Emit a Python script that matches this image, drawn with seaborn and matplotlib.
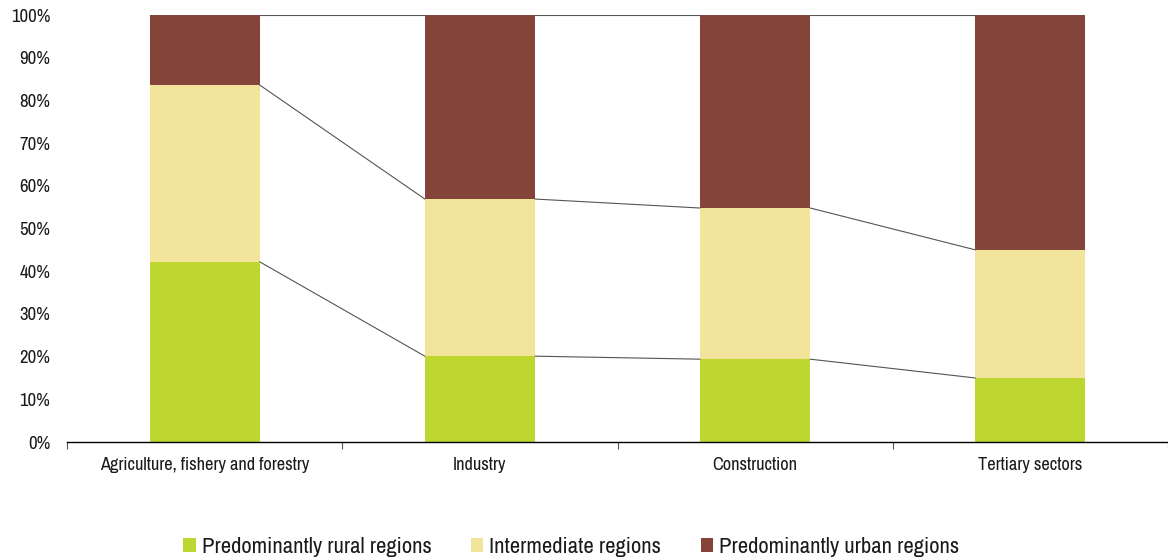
import matplotlib
matplotlib.use("Agg")
import matplotlib.pyplot as plt
from matplotlib.patches import Patch
import seaborn as sns
import pandas as pd
import numpy as np

sectors = ["Agriculture, fishery and forestry", "Industry", "Construction", "Tertiary sectors"]
rural = [42.2, 20.1, 19.4, 15.0]
intermediate = [41.4, 36.8, 35.4, 30.0]
urban = [16.4, 43.1, 45.2, 55.0]
series_names = ["Predominantly rural regions", "Intermediate regions", "Predominantly urban regions"]
colors = ["#BDD630", "#F3E49B", "#84443A"]

sns.set_theme(style="white")
plt.rcParams["font.family"] = ["Archivo Narrow", "Roboto Condensed", "DejaVu Sans"]

df = pd.DataFrame({"sector": sectors, "rural": rural,
                   "intermediate": intermediate, "urban": urban})
df["cum_rural"] = df["rural"]
df["cum_int"] = df["rural"] + df["intermediate"]
df["cum_all"] = df["cum_int"] + df["urban"]

fig = plt.figure(figsize=(11.68, 5.6), dpi=100)
ax = fig.add_axes([0.0574, 0.2107, 0.9426, 0.7625])

width = 0.4
# stacked bars drawn back to front using cumulative totals
for col, c in [("cum_all", colors[2]), ("cum_int", colors[1]), ("cum_rural", colors[0])]:
    sns.barplot(data=df, x="sector", y=col, color=c, width=width,
                saturation=1, ax=ax, linewidth=0, edgecolor=c)

# connector lines between adjacent bars
half = width / 2
for col in ["cum_rural", "cum_int", "cum_all"]:
    vals = df[col].to_numpy()
    for i in range(len(vals) - 1):
        ax.plot([i + half, i + 1 - half], [vals[i], vals[i + 1]],
                color="#555555", lw=0.8, zorder=1)

ax.set_xlim(-0.5, 3.5)
ax.set_ylim(0, 100)
ax.set_yticks(np.arange(0, 101, 10))
ax.set_yticklabels([f"{v}%" for v in range(0, 101, 10)])
ax.set_xlabel("")
ax.set_ylabel("")

for s in ["top", "right", "left"]:
    ax.spines[s].set_visible(False)
ax.spines["bottom"].set_color("#000000")
ax.spines["bottom"].set_linewidth(1.0)

ax.tick_params(axis="y", length=0, pad=12, labelsize=13.5, labelcolor="#1a1a1a")
ax.tick_params(axis="x", length=0, pad=11, labelsize=13.2, labelcolor="#1a1a1a")
ax.set_xticks(np.arange(-0.5, 3.6, 1.0), minor=True)
ax.tick_params(axis="x", which="minor", bottom=True, length=5, width=0.8,
               color="#555555", direction="out")

handles = [Patch(facecolor=c, edgecolor="none", label=n) for n, c in zip(series_names, colors)]
fig.legend(handles=handles, loc="lower center", bbox_to_anchor=(0.489, -0.031),
           ncol=3, frameon=False, fontsize=16.3, handlelength=0.55, handleheight=0.55,
           handletextpad=0.25, columnspacing=1.75, labelcolor="#1a1a1a")

fig.savefig("out.png", dpi=100)
